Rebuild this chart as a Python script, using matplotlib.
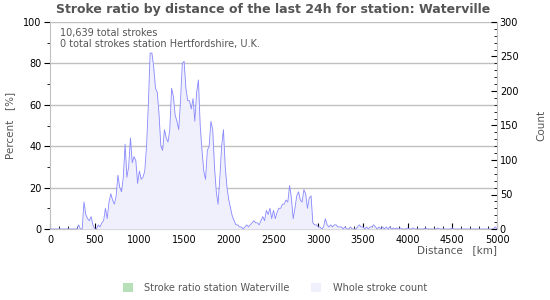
import matplotlib
matplotlib.use("Agg")
import matplotlib.pyplot as plt
import numpy as np
from matplotlib.patches import Patch

distance_km = list(range(0, 5001, 20))
percent_read = {
    320: 2, 350: 4, 370: 3, 380: 13, 400: 7, 420: 5, 440: 4, 460: 6, 480: 2,
    540: 2, 560: 1, 580: 3, 600: 4, 620: 10, 640: 5, 660: 13, 680: 17, 700: 14,
    720: 12, 740: 16, 760: 26, 780: 20, 800: 18, 820: 25, 840: 41, 860: 25,
    880: 30, 900: 44, 920: 32, 940: 35, 960: 33, 980: 22, 1000: 28, 1020: 24,
    1040: 25, 1060: 28, 1080: 40, 1100: 60, 1120: 85, 1140: 85, 1160: 78,
    1180: 68, 1200: 66, 1220: 55, 1240: 40, 1260: 38, 1280: 48, 1300: 44,
    1320: 42, 1340: 48, 1360: 68, 1380: 64, 1400: 55, 1420: 52, 1440: 48,
    1460: 62, 1480: 80, 1500: 81, 1520: 68, 1540: 62, 1560: 62, 1580: 58,
    1600: 63, 1620: 52, 1640: 66, 1660: 72, 1680: 50, 1700: 38, 1720: 28,
    1740: 24, 1760: 38, 1780: 40, 1800: 52, 1820: 48, 1840: 30, 1860: 18,
    1880: 12, 1900: 25, 1920: 40, 1940: 48, 1960: 30, 1980: 20, 2000: 14,
    2020: 10, 2040: 6, 2060: 4, 2080: 2, 2100: 2, 2120: 1, 2140: 1, 2180: 1,
    2200: 2, 2220: 1, 2240: 2, 2260: 3, 2280: 4, 2300: 3, 2320: 3, 2340: 2,
    2360: 4, 2380: 6, 2400: 4, 2420: 9, 2440: 7, 2460: 10, 2480: 5, 2500: 9,
    2520: 5, 2540: 8, 2560: 10, 2580: 10, 2600: 12, 2620: 12, 2640: 14,
    2660: 13, 2680: 21, 2700: 15, 2720: 5, 2740: 10, 2760: 16, 2780: 18,
    2800: 14, 2820: 13, 2840: 19, 2860: 17, 2880: 10, 2900: 15, 2920: 16,
    2940: 3, 2960: 2, 2980: 2, 3000: 1, 3020: 1, 3060: 1, 3080: 5, 3100: 2,
    3120: 1, 3140: 2, 3160: 1, 3180: 2, 3200: 2, 3220: 1, 3240: 1, 3260: 1,
    3300: 1, 3360: 1, 3440: 1, 3460: 2, 3480: 1, 3500: 1, 3540: 1, 3580: 1,
    3600: 1, 3620: 2, 3640: 1, 3680: 1, 3720: 1, 3760: 1, 3800: 1, 3840: 0.5,
    3880: 0.5, 3920: 0.5, 4000: 0.5, 4060: 0.5, 4200: 0.5, 4340: 0.5,
    4500: 0.5, 4980: 1,
}
count_values = [percent_read.get(d, 0) * 3 for d in distance_km]

title = "Stroke ratio by distance of the last 24h for station: Waterville"
info_lines = ["10,639 total strokes", "0 total strokes station Hertfordshire, U.K."]
legend_labels = ["Stroke ratio station Waterville", "Whole stroke count"]

fig = plt.figure(figsize=(5.5, 3), dpi=100)
ax = fig.add_axes([50/550, 71/300, 447/550, 207/300])
ax2 = ax.twinx()

grid_c = "#c0c0c0"
text_c = "#555555"
ax2.fill_between(distance_km, count_values, 0, color="#f0f0fc", lw=0, zorder=1)
ax2.plot(distance_km, count_values, color="#8888ff", lw=0.6, zorder=2)

ax.set_xlim(0, 5000)
ax.set_ylim(0, 100)
ax2.set_ylim(0, 300)
ax.set_xticks(range(0, 5001, 500))
ax.set_xticks(range(0, 5001, 100), minor=True)
ax.set_yticks(range(0, 101, 20))
ax.set_yticks(range(0, 101, 10), minor=True)
ax2.set_yticks(range(0, 301, 50))
ax2.set_yticks(range(0, 301, 10), minor=True)

for y in range(20, 101, 20):
    ax.axhline(y, color=grid_c, lw=1, zorder=0)
ax.set_zorder(0)
ax2.set_zorder(1)
ax.patch.set_visible(False)

for a in (ax, ax2):
    for s in a.spines.values():
        s.set_visible(False)
ax.spines["left"].set_visible(True)
ax.spines["left"].set_color(grid_c)
ax.spines["bottom"].set_visible(True)
ax.spines["bottom"].set_color(grid_c)
ax2.spines["right"].set_visible(True)
ax2.spines["right"].set_color(grid_c)

ax.tick_params(axis="y", which="major", direction="out", length=4, color="black", labelsize=7, pad=2)
ax.tick_params(axis="y", which="minor", direction="out", length=2, color="black")
ax.tick_params(axis="x", which="major", direction="in", length=4, color="black", labelsize=7, pad=4.5)
ax.tick_params(axis="x", which="minor", direction="in", length=2, color="black")
ax2.tick_params(axis="y", which="major", direction="in", length=4, color="black", labelsize=7, pad=2)
ax2.tick_params(axis="y", which="minor", direction="in", length=2, color="black")

fig.text(0.497, 0.967, title, ha="center", va="center", fontsize=9, fontweight="bold", color=text_c)
ax.text(0.022, 0.945, info_lines[0], transform=ax.transAxes, fontsize=7, color=text_c, va="center")
ax.text(0.022, 0.893, info_lines[1], transform=ax.transAxes, fontsize=7, color=text_c, va="center")

fig.text(497/550, 1 - 250/300, "Distance   [km]", ha="right", va="center", fontsize=7.5, color=text_c)
fig.text(10/550, 1 - 125/300, "Percent   [%]", rotation=90, ha="center", va="center", fontsize=7.5, color=text_c)
fig.text(541/550, 1 - 125/300, "Count", rotation=90, ha="center", va="center", fontsize=7.5, color=text_c)

handles = [Patch(facecolor="#b8e0b8", edgecolor="none"), Patch(facecolor="#f0f0fc", edgecolor="none")]
fig.legend(handles, legend_labels, loc="center", bbox_to_anchor=(0.5, 1 - 288/300), ncol=2,
           frameon=False, fontsize=7, labelcolor=text_c, handlelength=1.0, handleheight=1.0,
           columnspacing=2.2, handletextpad=1.2)

fig.savefig("out.png", dpi=100)
